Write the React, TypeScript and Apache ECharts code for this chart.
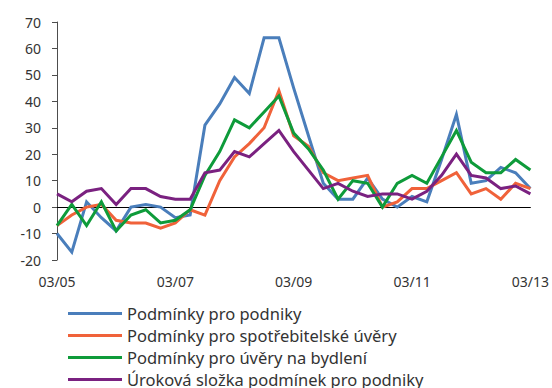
import React, { useEffect, useRef } from "react";
import * as echarts from "echarts";

// Quarterly survey periods (month/year)
const quarters = [
  "03/05", "06/05", "09/05", "12/05",
  "03/06", "06/06", "09/06", "12/06",
  "03/07", "06/07", "09/07", "12/07",
  "03/08", "06/08", "09/08", "12/08",
  "03/09", "06/09", "09/09", "12/09",
  "03/10", "06/10", "09/10", "12/10",
  "03/11", "06/11", "09/11", "12/11",
  "03/12", "06/12", "09/12", "12/12",
  "03/13",
];

const seriesNames = [
  "Podmínky pro podniky",
  "Podmínky pro spotřebitelské úvěry",
  "Podmínky pro úvěry na bydlení",
  "Úroková složka podmínek pro podniky",
];

const firms = [-10, -17, 2, -4, -9, 0, 1, 0, -4, -3, 31, 39, 49, 43, 64, 64, 45, 27, 9, 3, 3, 11, 3, 0, 4, 2, 18, 35, 9, 10, 15, 13, 7];
const consumer = [-7, -3, 0, 1, -5, -6, -6, -8, -6, -1, -3, 10, 19, 24, 30, 44, 27, 23, 13, 10, 11, 12, 0, 2, 7, 7, 10, 13, 5, 7, 3, 9, 7];
const housing = [-7, 1, -7, 2, -9, -3, -1, -6, -5, -1, 12, 21, 33, 30, 36, 42, 28, 22, 14, 3, 10, 9, 0, 9, 12, 9, 19, 29, 17, 13, 13, 18, 14];
const interest = [5, 2, 6, 7, 1, 7, 7, 4, 3, 3, 13, 14, 21, 19, 24, 29, 21, 14, 7, 9, 6, 4, 5, 5, 3, 6, 12, 20, 12, 11, 7, 8, 5];

const colors = ["#4a7ebb", "#f0623a", "#0e9b3a", "#7a2180"];
const unitNote = "(vážená čistá procenta, v p.b.)";

const FONT = "'Noto Sans', 'DejaVu Sans', sans-serif";
const TEXT = "#333333";

export default function App() {
  const ref = useRef<HTMLDivElement>(null);

  useEffect(() => {
    if (!ref.current) return;
    const chart = echarts.init(ref.current, undefined, { renderer: "svg" });
    const values = [firms, consumer, housing, interest];

    chart.setOption({
      animation: false,
      textStyle: { fontFamily: FONT },
      grid: { left: 57, right: 18, top: 22, bottom: 128, containLabel: false },
      legend: {
        orient: "vertical",
        left: 68,
        top: 305,
        width: 400,
        height: 120,
        padding: 0,
        itemGap: 5,
        itemWidth: 54,
        itemHeight: 3,
        icon: "rect",
        data: seriesNames,
        textStyle: { fontFamily: FONT, fontSize: 16.5, color: TEXT, lineHeight: 16, height: 16 },
      },
      graphic: [
        {
          type: "text",
          left: 2,
          top: -19,
          style: { text: unitNote, font: `15px ${FONT}`, fill: TEXT },
        },
      ],
      xAxis: [
        {
          type: "category",
          data: quarters,
          boundaryGap: false,
          position: "bottom",
          axisLine: { show: false, onZero: false },
          axisTick: { show: false },
          axisLabel: {
            interval: 7,
            margin: 14,
            fontSize: 14,
            color: TEXT,
            fontFamily: FONT,
            showMaxLabel: true,
          },
        },
        {
          type: "category",
          data: quarters,
          boundaryGap: false,
          position: "top",
          axisLine: { show: true, onZero: true, lineStyle: { color: "#000000", width: 1 } },
          axisTick: { show: false },
          axisLabel: { show: false },
        },
      ],
      yAxis: {
        type: "value",
        min: -20,
        max: 70,
        interval: 10,
        axisLine: { show: true, lineStyle: { color: "#4d4d4d", width: 1 } },
        axisTick: { show: true, length: 5, lineStyle: { color: "#4d4d4d" } },
        splitLine: { show: false },
        axisLabel: { margin: 16, fontSize: 14, color: TEXT, fontFamily: FONT },
      },
      series: seriesNames.map((name, i) => ({
        name,
        type: "line",
        data: values[i],
        xAxisIndex: 0,
        symbol: "none",
        lineStyle: { width: 3, color: colors[i], join: "miter" },
        itemStyle: { color: colors[i] },
        z: 2 + i,
      })),
    });

    return () => chart.dispose();
  }, []);

  return (
    <div
      ref={ref}
      style={{ position: "fixed", left: 0, top: 0, width: 552, height: 388, background: "#ffffff" }}
    />
  );
}
